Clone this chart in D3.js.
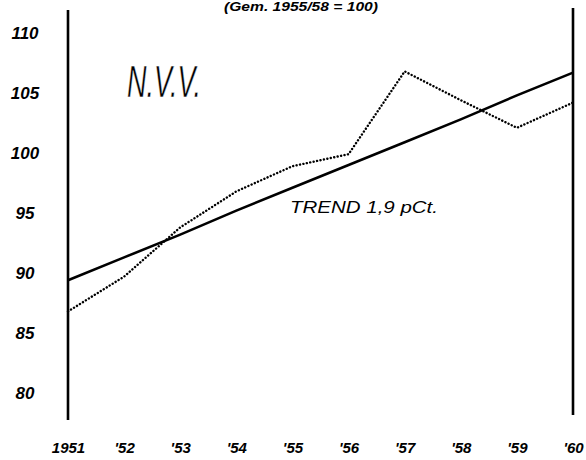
<!DOCTYPE html>
<html>
<head>
<meta charset="utf-8">
<script src="https://cdn.jsdelivr.net/npm/d3@7"></script>
<style>
  body { margin: 0; background: #fff; }
  svg { display: block; }
  .hand { font-family: "Liberation Sans", Arial, sans-serif; font-style: italic; fill: #000; }
</style>
</head>
<body>
<div id="chart"></div>
<script>
// N.V.V. index, 1955/58 = 100
const years = [1951, 1952, 1953, 1954, 1955, 1956, 1957, 1958, 1959, 1960]
const yearLabels = ["1951", "'52", "'53", "'54", "'55", "'56", "'57", "'58", "'59", "'60"]
const nvv = [86.8, 89.7, 93.8, 96.8, 98.9, 99.9, 106.8, 104.4, 102.1, 104.2]
const trend = [89.4, 91.3, 93.2, 95.2, 97.1, 99.0, 100.9, 102.8, 104.8, 106.7]
const yTicks = [80, 85, 90, 95, 100, 105, 110]

const draw = function (id) {
    const width = 586
    const height = 460

    const svg = d3.select("#".concat(id))
        .append("svg")
        .attr("width", width)
        .attr("height", height)

    const x = d3.scaleLinear().domain([1951, 1960]).range([68, 573])
    const y = d3.scaleLinear().domain([80, 110]).range([393, 33])

    // subtitle (sits at the very top edge in the scan)
    svg.append("text")
        .attr("class", "hand")
        .attr("x", 224)
        .attr("y", 11)
        .attr("textLength", 154)
        .attr("lengthAdjust", "spacingAndGlyphs")
        .style("font-size", "13px")
        .style("font-weight", "bold")
        .text("(Gem. 1955/58 = 100)")

    // y axis labels
    const yAxis = svg.append("g")
        .attr("transform", `translate(${x(1951)},0)`)
        .call(d3.axisLeft(y).tickValues(yTicks).tickSize(0))
    yAxis.select(".domain").remove()
    yAxis.selectAll("text")
        .attr("class", "hand")
        .attr("x", -43)
        .attr("text-anchor", "middle")
        .style("font-size", "17px")
        .style("font-weight", "bold")
        .style("font-family", "'Liberation Sans', Arial, sans-serif")

    // x axis labels
    const xAxis = svg.append("g")
        .attr("transform", "translate(0,440)")
        .call(d3.axisBottom(x).tickValues(years).tickFormat((d, i) => yearLabels[i]).tickSize(0))
    xAxis.select(".domain").remove()
    xAxis.selectAll("text")
        .attr("class", "hand")
        .attr("y", 2)
        .style("font-size", "15px")
        .style("font-weight", "bold")
        .style("font-family", "'Liberation Sans', Arial, sans-serif")

    // the two vertical frame lines
    svg.append("line")
        .attr("x1", x(1951)).attr("x2", x(1951))
        .attr("y1", 10).attr("y2", 420)
        .attr("stroke", "#000").attr("stroke-width", 2.6)
    svg.append("line")
        .attr("x1", x(1960)).attr("x2", x(1960))
        .attr("y1", 8).attr("y2", 415)
        .attr("stroke", "#000").attr("stroke-width", 2.6)

    const line = d3.line()
        .x((d, i) => x(years[i]))
        .y(d => y(d))

    // actual index, dotted
    svg.append("path")
        .datum(nvv)
        .attr("fill", "none")
        .attr("stroke", "#000")
        .attr("stroke-width", 2.4)
        .attr("stroke-linecap", "round")
        .attr("stroke-dasharray", "0.1 3.4")
        .attr("d", line)

    // trend, solid
    svg.append("path")
        .datum(trend)
        .attr("fill", "none")
        .attr("stroke", "#000")
        .attr("stroke-width", 2.6)
        .attr("d", line)

    // thin pen look: a faint white outline eats a little into the glyphs
    svg.append("text")
        .attr("class", "hand")
        .attr("x", 127)
        .attr("y", 97)
        .attr("textLength", 74)
        .attr("lengthAdjust", "spacingAndGlyphs")
        .attr("stroke", "#fff")
        .attr("stroke-width", 0.5)
        .style("font-size", "44px")
        .text("N.V.V.")

    svg.append("text")
        .attr("class", "hand")
        .attr("x", 290)
        .attr("y", 213)
        .attr("textLength", 148)
        .attr("lengthAdjust", "spacingAndGlyphs")
        .style("font-size", "16px")
        .text("TREND 1,9 pCt.")
}

draw("chart")
</script>
</body>
</html>
